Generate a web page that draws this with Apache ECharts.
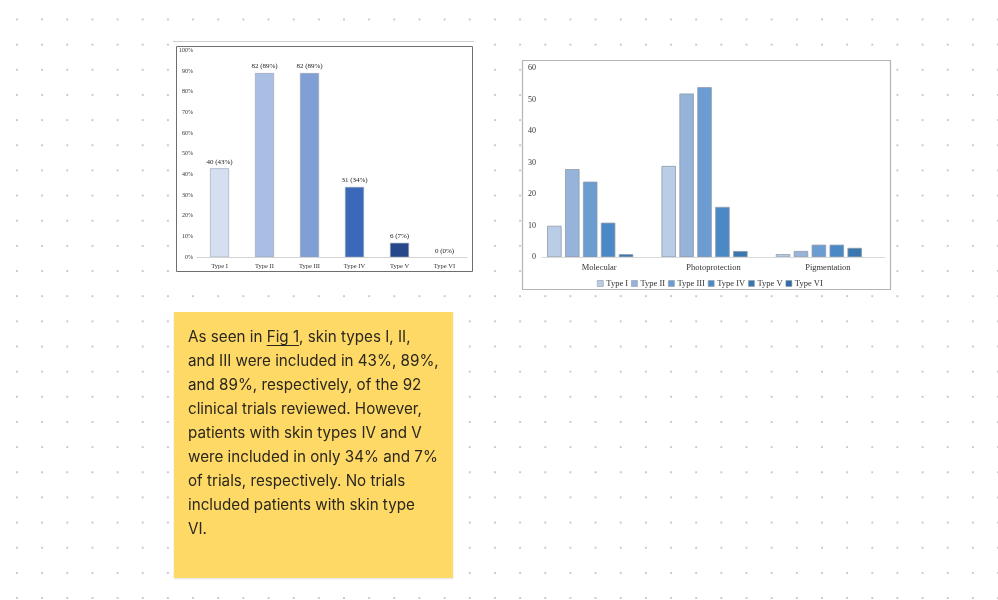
<!DOCTYPE html>
<html>
<head>
<meta charset="utf-8">
<script src="https://cdn.jsdelivr.net/npm/echarts@6/dist/echarts.min.js"></script>
<style>
html,body{margin:0;padding:0;background:#fff;}
#wrap{position:relative;width:998px;height:600px;overflow:hidden;
 background-color:#fff;
 background-image:radial-gradient(circle, #c9c9c9 0.9px, rgba(255,255,255,0) 1.3px);
 background-size:25.16px 25.16px;
 background-position:4.4px 6.9px;}
#chart{position:absolute;left:0;top:0;width:998px;height:600px;}
#note{position:absolute;left:174px;top:312px;width:279px;height:266px;background:#fed966;
 box-shadow:0 1px 2px rgba(0,0,0,0.12);box-sizing:border-box;padding:13px 0 0 14px;
 font-family:Inter,"Noto Sans",sans-serif;font-size:15.2px;line-height:24px;color:#2a271f;white-space:nowrap;}
#note u{text-decoration:underline;text-underline-offset:3px;text-decoration-thickness:1px;}
</style>
</head>
<body>
<div id="wrap">
<div id="chart"></div>
<div id="note">As seen in <u>Fig 1</u>, skin types I, II,<br>and III were included in 43%, 89%,<br>and 89%, respectively, of the 92<br>clinical trials reviewed. However,<br>patients with skin types IV and V<br>were included in only 34% and 7%<br>of trials, respectively. No trials<br>included patients with skin type<br>VI.</div>
</div>
<script>
// Left chart (Fig 1): skin types included in trials
const skinTypes = ['Type I','Type II','Type III','Type IV','Type V','Type VI'];
const trialCounts = [40, 82, 82, 31, 6, 0];
const trialPercents = [43, 89, 89, 34, 7, 0];
const leftColors = ['#d5dff1','#a9bee2','#7f9fd5','#3a69b9','#26488a','#1d3a70'];

// Right chart: trials by category and skin type
const studyCategories = ['Molecular','Photoprotection','Pigmentation'];
const typeI   = [10, 29, 1];
const typeII  = [28, 52, 2];
const typeIII = [24, 54, 4];
const typeIV  = [11, 16, 4];
const typeV   = [1, 2, 3];
const typeVI  = [0, 0, 0];
const rightSeriesData = [typeI, typeII, typeIII, typeIV, typeV, typeVI];
const rightColors = ['#b9cde6','#96b4d9','#6b9dd2','#4a89c6','#3a77b0','#2f6aa4'];

const serif = '"Liberation Serif","DejaVu Serif",serif';

const chart = echarts.init(document.getElementById('chart'), null, {renderer:'canvas'});

const rightSeries = skinTypes.map((name, i) => ({
  type:'bar', name:name, xAxisIndex:1, yAxisIndex:1,
  data: rightSeriesData[i].map(v => v === 0 ? {value:v, itemStyle:{borderWidth:0}} : v),
  barGap:'24%', barCategoryGap:'9%',
  itemStyle:{color:rightColors[i], borderColor:'#8e9aa8', borderWidth:0.8},
  z:3
}));

chart.setOption({
  backgroundColor:'transparent',
  animation:false,
  graphic:[
    {type:'rect', shape:{x:173, y:40, width:301, height:234}, style:{fill:'#fff'}, z:-10},
    {type:'line', shape:{x1:173, y1:41.5, x2:474, y2:41.5}, style:{stroke:'#cfcfcf', lineWidth:1}, z:-9},
    {type:'rect', shape:{x:176.5, y:46.5, width:296, height:225}, style:{fill:'#fff', stroke:'#6e6e6e', lineWidth:1}, z:-9},
    {type:'rect', shape:{x:522.5, y:60.5, width:368, height:229}, style:{fill:'#fff', stroke:'#b4b4b4', lineWidth:1.2}, z:-9}
  ],
  grid:[
    {left:197, right:998-467, top:50.3, bottom:600-257.3},
    {left:542, right:998-885, top:68.3, bottom:600-257.3}
  ],
  legend:{
    data:skinTypes,
    left:592, top:274, z:10,
    itemWidth:6, itemHeight:6, itemGap:3,
    icon:'rect',
    textStyle:{fontFamily:serif, fontSize:8.5, color:'#333', padding:[0,0,0,-2]},
    itemStyle:{borderColor:'#8e9aa8', borderWidth:0.6}
  },
  xAxis:[
    {type:'category', gridIndex:0, data:skinTypes, z:10,
     axisLine:{lineStyle:{color:'#d4d4d4', width:1}}, axisTick:{show:false},
     axisLabel:{fontFamily:serif, fontSize:6.5, color:'#333', margin:5}},
    {type:'category', gridIndex:1, data:studyCategories, z:10,
     axisLine:{lineStyle:{color:'#d9d9d9', width:1}}, axisTick:{show:false},
     axisLabel:{fontFamily:serif, fontSize:8.5, color:'#333', margin:6}}
  ],
  yAxis:[
    {type:'value', gridIndex:0, min:0, max:100, interval:10, z:10,
     axisLine:{show:false}, axisTick:{show:false}, splitLine:{show:false},
     axisLabel:{fontFamily:serif, fontSize:6, color:'#333', margin:4, formatter:'{value}%'}},
    {type:'value', gridIndex:1, min:0, max:60, interval:10, z:10,
     axisLine:{show:false}, axisTick:{show:false}, splitLine:{show:false},
     axisLabel:{fontFamily:serif, fontSize:8, color:'#333', margin:6}}
  ],
  series:[
    {type:'bar', name:'Fig1', xAxisIndex:0, yAxisIndex:0, barWidth:19,
     data: trialPercents.map((p,i)=>({value:p, itemStyle:{color:leftColors[i], borderWidth: p === 0 ? 0 : 0.6}})),
     itemStyle:{borderColor:'#9aa3b3'},
     label:{show:true, position:'top', distance:3, fontFamily:serif, fontSize:7, color:'#222',
       formatter:(p)=>trialCounts[p.dataIndex]+' ('+trialPercents[p.dataIndex]+'%)'},
     z:3}
  ].concat(rightSeries)
});
</script>
</body>
</html>
